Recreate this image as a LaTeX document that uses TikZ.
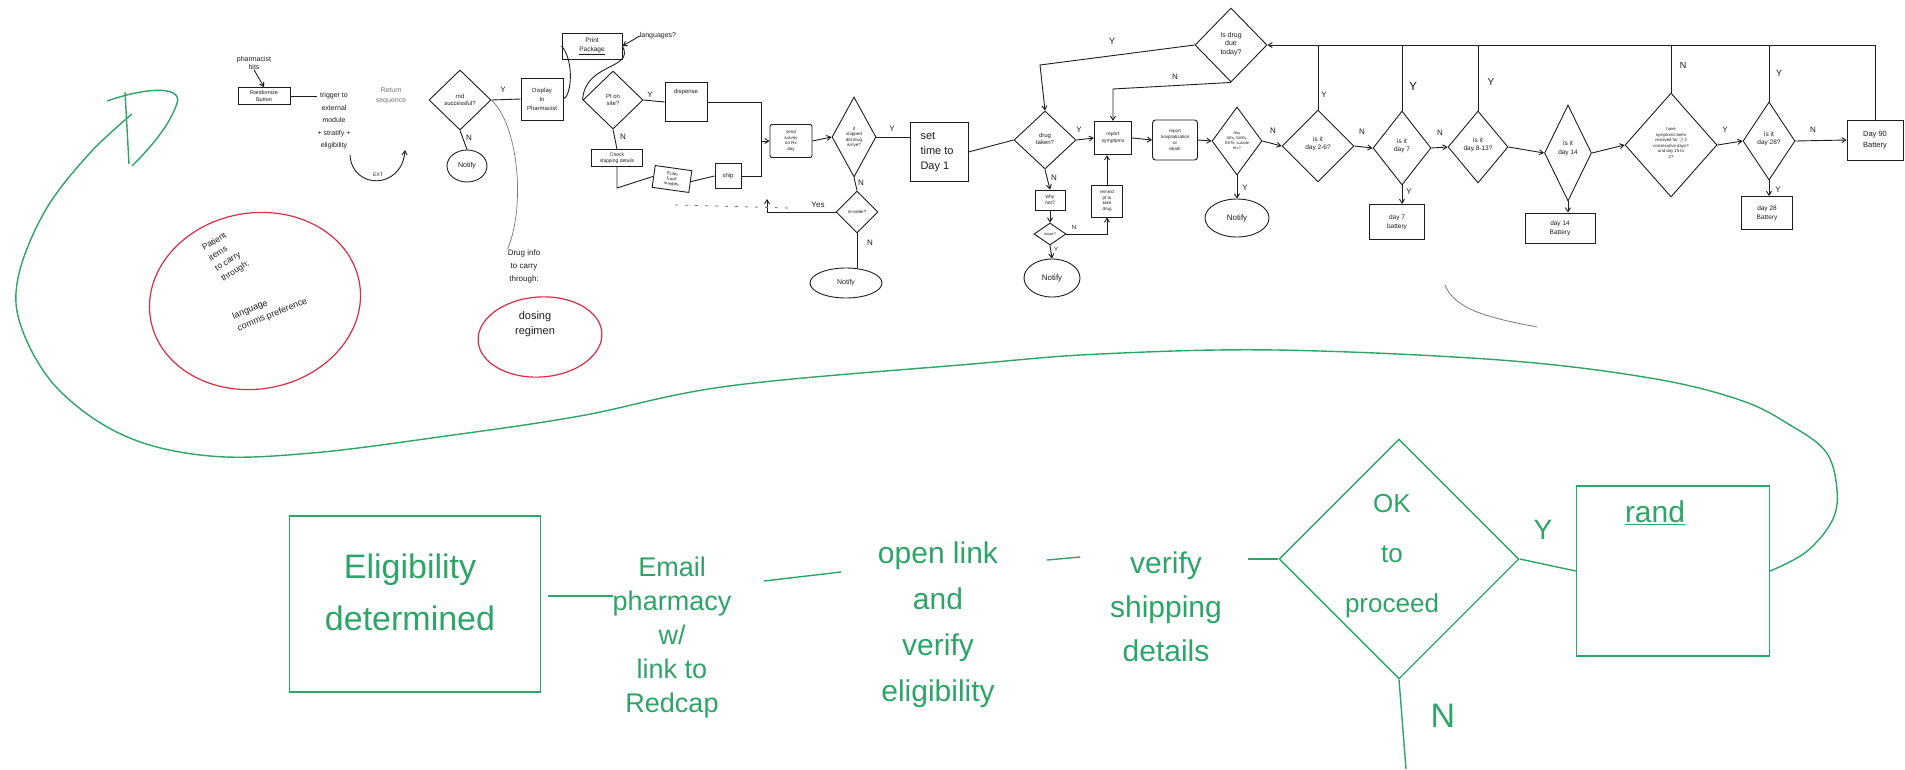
\documentclass[tikz,border=0pt]{standalone}
\usepackage{fontspec}
\setmainfont{Liberation Sans}
\usetikzlibrary{shapes.geometric,arrows.meta}
\definecolor{ink}{RGB}{30,30,30}
\definecolor{gr}{RGB}{45,165,105}
\definecolor{rd}{RGB}{220,45,70}
\definecolor{gy}{RGB}{120,120,120}
\newcommand{\fsz}[2]{\fontsize{#1}{#2}\selectfont}
\begin{document}
\begin{tikzpicture}[x=1pt,y=-1pt,
  every node/.style={inner sep=0pt,text=ink},
  bx/.style={draw=ink,line width=0.9pt,align=center},
  dm/.style={draw=ink,line width=0.9pt,diamond,inner sep=0pt},
  el/.style={draw=ink,line width=0.9pt,ellipse,align=center},
  ln/.style={draw=ink,line width=0.9pt},
  ar/.style={ln,-{Straight Barb[length=4pt,width=5pt]}},
  tx/.style={align=center,font=\fsz{6}{7}},
  yn/.style={font=\fsz{8}{9}},
  gln/.style={draw=gr,line width=1.4pt},
  gt/.style={text=gr,align=center},
]
\fill[white] (0,0) rectangle (1905,769);
\useasboundingbox (0,0) rectangle (1905,769);

% ---------- start of the flow ----------
\node[tx,font=\fsz{7}{8}] (t_pharm) at (254,63) {pharmacist\\hits};
\node[bx,minimum width=52pt,minimum height=17pt,font=\fsz{5.5}{6.5}] (b_rand) at (264,96) {Randomize\\Button};
\draw[ar] (t_pharm.south) -- (b_rand.north);
\node[tx,font=\fsz{7}{12.5}] (t_trig) at (334,121) {trigger to\\external\\module\\+ stratify +\\eligibility};
\draw[ln] (b_rand.east) -- (b_rand.east -| t_trig.west);
\node[tx,font=\fsz{7}{10},text=gy] (t_ret) at (391,96) {Return\\sequence};
\coordinate (c_ext1) at (350,155);
\coordinate (c_ext2) at (405,150);
\draw[ar] (c_ext1) .. controls (352,190) and (402,190) .. (c_ext2);
\node[font=\fsz{5}{6}] (t_ext) at (378,175) {EXT};

\node[dm,minimum width=62pt,minimum height=60pt] (d_rnd) at (460,100) {};
\node[tx] (d_rndT) at (460,100) {rnd\\successful?};
\node[yn] (y1) at (503,90) {Y};
\node[bx,minimum width=42pt,minimum height=42pt,font=\fsz{6}{9}] (b_disp) at (542,99) {Display\\to\\Pharmacist};
\draw[ln] (d_rnd.east) -- (b_disp.west);
\node[yn] (n1) at (469,138) {N};
\node[el,minimum width=40pt,minimum height=32pt,font=\fsz{7}{8}] (e_not1) at (467,166) {Notify};
\draw[ln] (d_rnd.south) -- (e_not1.north);

% notes in red
\node[tx,font=\fsz{8}{13}] (t_drug) at (524,266) {Drug info\\to carry\\through:};
\draw[draw=gy,line width=0.7pt] (d_rnd.east) .. controls (518,125) and (526,205) .. (t_drug.north west);
\node[tx,font=\fsz{11}{15}] (t_dose) at (535,324) {dosing\\regimen};
\node[draw=rd,line width=1.2pt,ellipse,minimum width=124pt,minimum height=80pt,rotate=4] (e_red2) at (540,337) {};
\node[align=left,font=\fsz{8.5}{12},rotate=32] (t_pat) at (226,256) {Patient\\items\\to carry\\through:};
\node[align=left,font=\fsz{9}{13},rotate=22] (t_lang) at (270,309) {language\\comms preference};
\node[draw=rd,line width=1.2pt,ellipse,minimum width=212pt,minimum height=176pt,rotate=10] (e_red1) at (255,301) {};

% ---------- dispensing ----------
\node[bx,minimum width=60pt,minimum height=26pt,font=\fsz{6.5}{9}] (b_print) at (592,46) {Print\\\underline{Package}};
\node[font=\fsz{7}{8}] (t_langq) at (658,36) {languages?};
\draw[ar] (t_langq.west) -- (b_print.east);
\draw[ln] (b_disp.east) .. controls (572,95) and (574,60) .. (b_print.west);
\node[dm,minimum width=60pt,minimum height=58pt] (d_pt) at (613,100) {};
\node[tx] (d_ptT) at (613,100) {Pt on\\site?};
\draw[ln] (b_print.east) .. controls (635,70) and (585,62) .. (d_pt.west);
\node[yn] (y2) at (650,95) {Y};
\node[bx,minimum width=42pt,minimum height=39pt] (b_dsp) at (686,102) {};
\node[tx,font=\fsz{6}{7}] (b_dspT) at (686,92) {dispense};
\draw[ln] (d_pt.east) -- (b_dsp.west);
\coordinate (c_v1) at (761,102);
\coordinate (c_v2) at (761,177);
\draw[ln] (b_dsp.east) -- (c_v1) -- (c_v2);
\node[yn] (n2) at (623,137) {N};
\node[bx,minimum width=51pt,minimum height=17pt,font=\fsz{5}{6}] (b_chk) at (617,158) {Check\\shipping details};
\draw[ln] (d_pt.south) -- (b_chk.north);
\node[bx,minimum width=37pt,minimum height=22pt,rotate=-8,font=\fsz{4.5}{5}] (b_ent) at (672,179) {Enter\\track\\number};
\coordinate (c_chk) at (617,188);
\draw[ln] (b_chk.south) -- (c_chk) -- (b_ent.west);
\node[bx,minimum width=26pt,minimum height=25pt,font=\fsz{6}{7}] (b_ship) at (728,176) {ship};
\draw[ln] (b_ent.east) -- (b_ship.west);
\draw[ln] (b_ship.east) -- (b_ship.east -| c_v2);

\node[bx,minimum width=42pt,minimum height=33pt,rounded corners=2pt,font=\fsz{4.5}{5.5}] (b_send) at (791,141) {send\\survey\\on Rx\\day};
\draw[ar] (c_v1 |- b_send.west) -- (b_send.west);
\node[dm,minimum width=44pt,minimum height=80pt] (d_arr) at (854,137) {};
\node[tx,font=\fsz{4.5}{5.5}] (d_arrT) at (854,137) {if\\shipped\\did drug\\arrive?};
\draw[ar] (b_send.east) -- (d_arr.west);
\node[yn] (y3) at (892,129) {Y};
\node[bx,minimum width=58pt,minimum height=59pt] (b_set) at (939,152) {};
\node[align=left,font=\fsz{11}{15}] (b_setT) at (937,152) {set\\time to\\Day 1};
\draw[ln] (d_arr.east) -- (b_set.west |- d_arr.east);
\node[yn] (n3) at (861,183) {N};
\node[dm,minimum width=42pt,minimum height=42pt] (d_ro) at (857,212) {};
\node[tx,font=\fsz{4.5}{5}] (d_roT) at (857,212) {re-order?};
\draw[ln] (d_arr.south) -- (d_ro.north);
\coordinate (c_yes) at (767,212);
\coordinate (c_yes2) at (767,199);
\draw[ar] (d_ro.west) -- (c_yes) -- (c_yes2);
\node[font=\fsz{8}{9}] (t_yes) at (818,205) {Yes};
\coordinate (c_d1) at (675,205);
\coordinate (c_d2) at (790,208);
\draw[gy,line width=0.8pt,dash pattern=on 3pt off 7pt] (c_d1) -- (c_d2);
\node[yn] (n4) at (870,243) {N};
\node[el,minimum width=72pt,minimum height=30pt,font=\fsz{7}{8}] (e_not2) at (846,283) {Notify};
\draw[ln] (d_ro.south) -- (d_ro.south |- e_not2.north);

% ---------- daily loop ----------
\node[dm,minimum width=62pt,minimum height=58pt] (d_tk) at (1045,140) {};
\node[tx] (d_tkT) at (1045,139) {drug\\taken?};
\draw[ln] (b_set.east) -- (d_tk.west);
\node[yn] (y4) at (1079,130) {Y};
\node[bx,minimum width=37pt,minimum height=33pt,line width=1.3pt,font=\fsz{5}{7}] (b_rep) at (1113,138) {report\\symptoms};
\draw[ar] (d_tk.east) -- (b_rep.west);
\node[bx,minimum width=45pt,minimum height=40pt,rounded corners=3pt,font=\fsz{4.5}{6}] (b_hosp) at (1175,140) {report\\hospitalization\\or\\death};
\draw[ar] (b_rep.east) -- (b_hosp.west);
\node[dm,minimum width=50pt,minimum height=68pt] (d_ae) at (1237,141) {};
\node[tx,font=\fsz{4}{5}] (d_aeT) at (1237,141) {Any\\AEs, SAEs,\\ESTs, suicide\\etc?};
\draw[ar] (b_hosp.east) -- (d_ae.west);
\node[yn] (y5) at (1245,188) {Y};
\node[el,minimum width=64pt,minimum height=38pt,font=\fsz{8}{9}] (e_not4) at (1237,218) {Notify};
\draw[ar] (d_ae.south) -- (e_not4.north);
\node[yn] (n5) at (1273,131) {N};

\node[yn] (n6) at (1054,178) {N};
\node[bx,minimum width=30pt,minimum height=20pt,font=\fsz{5}{6}] (b_why) at (1050,200) {why\\not?};
\draw[ar] (d_tk.south) -- (b_why.north);
\node[dm,minimum width=32pt,minimum height=22pt] (d_iss) at (1050,234) {};
\node[font=\fsz{4}{5}] (d_issT) at (1050,234) {issue?};
\draw[ar] (b_why.south) -- (d_iss.north);
\node[yn,font=\fsz{6}{7}] (y6) at (1056,249) {Y};
\node[el,minimum width=56pt,minimum height=38pt,font=\fsz{8}{9}] (e_not3) at (1052,278) {Notify};
\draw[ar] (d_iss.south) -- (e_not3.north);
\node[bx,minimum width=31pt,minimum height=32pt,font=\fsz{4.5}{5.5}] (b_rem) at (1107,201) {remind\\pt to\\take\\drug};
\coordinate (c_rem) at (1107,234);
\draw[ar] (d_iss.east) -- (c_rem) -- (b_rem.south);
\node[yn,font=\fsz{6}{7}] (n7) at (1074,227) {N};
\draw[ar] (b_rem.north) -- (b_rem.north |- b_rep.south);

% ---------- day checks ----------
\node[dm,minimum width=72pt,minimum height=72pt] (d_26) at (1318,146) {};
\node[tx,font=\fsz{6.5}{8}] (d_26T) at (1318,144) {is it\\day 2-6?};
\draw[ar] (d_ae.east) -- (d_26.west);
\node[yn] (n8) at (1362,132) {N};
\node[dm,minimum width=58pt,minimum height=74pt] (d_7) at (1402,148) {};
\node[tx,font=\fsz{6.5}{8}] (d_7T) at (1402,146) {is it\\day 7};
\draw[ar] (d_26.east) -- (d_7.west);
\node[yn] (y7) at (1409,192) {Y};
\node[bx,minimum width=55pt,minimum height=35pt,font=\fsz{6.5}{9}] (b_d7) at (1397,222) {day 7\\battery};
\draw[ar] (d_7.south) -- (d_7.south |- b_d7.north);
\node[yn] (n9) at (1440,133) {N};
\node[dm,minimum width=60pt,minimum height=72pt] (d_813) at (1478,147) {};
\node[tx,font=\fsz{6.5}{8}] (d_813T) at (1478,145) {is it\\day 8-13?};
\draw[ar] (d_7.east) -- (d_813.west);
\node[dm,minimum width=47pt,minimum height=96pt] (d_14) at (1568,153) {};
\node[tx,font=\fsz{6.5}{9}] (d_14T) at (1568,148) {is it\\day 14};
\draw[ar] (d_813.east) -- (d_14.west);
\node[bx,minimum width=70pt,minimum height=30pt,font=\fsz{6.5}{9}] (b_d14) at (1560,228) {day 14\\Battery};
\draw[ar] (d_14.south) -- (d_14.south |- b_d14.north);
\node[dm,minimum width=92pt,minimum height=104pt] (d_sym) at (1671,145) {};
\node[tx,font=\fsz{4.3}{5.5}] (d_symT) at (1671,143) {have\\symptoms been\\resolved for $\geq$3\\consecutive days?\\and day 15 to\\27};
\draw[ar] (d_14.east) -- (d_sym.west);
\node[yn] (y8) at (1725,130) {Y};
\node[dm,minimum width=52pt,minimum height=78pt] (d_28) at (1769,141) {};
\node[tx,font=\fsz{6.5}{8}] (d_28T) at (1769,139) {is it\\day 28?};
\draw[ar] (d_sym.east) -- (d_28.west);
\node[yn] (y9) at (1778,190) {Y};
\node[bx,minimum width=51pt,minimum height=33pt,font=\fsz{6.5}{9}] (b_d28) at (1767,213) {day 28\\Battery};
\draw[ar] (d_28.south) -- (d_28.south |- b_d28.north);
\node[yn] (n10) at (1813,130) {N};
\node[bx,minimum width=56pt,minimum height=40pt,font=\fsz{7.5}{11}] (b_d90) at (1875,140) {Day 90\\Battery};
\draw[ar] (d_28.east) -- (b_d90.west);

% ---------- top return loop ----------
\node[dm,minimum width=72pt,minimum height=74pt] (d_due) at (1231,45) {};
\node[tx,font=\fsz{7}{8.5}] (d_dueT) at (1231,44) {Is drug\\due\\today?};
\coordinate (c_top) at (1875,45);
\draw[ar] (b_d90.north) -- (c_top) -- (d_due.east);
\draw[ln] (d_26.north) -- (d_26.north |- c_top);
\draw[ln] (d_7.north) -- (d_7.north |- c_top);
\draw[ln] (d_813.north) -- (d_813.north |- c_top);
\draw[ln] (d_sym.north) -- (d_sym.north |- c_top);
\draw[ln] (d_28.north) -- (d_28.north |- c_top);
\node[yn] (y11) at (1324,95) {Y};
\node[yn,font=\fsz{12}{13}] (y12) at (1413,86) {Y};
\node[yn,font=\fsz{10}{11}] (y13) at (1491,82) {Y};
\node[yn,font=\fsz{9}{10}] (n12) at (1683,65) {N};
\node[yn,font=\fsz{9}{10}] (y14) at (1779,73) {Y};
\coordinate (c_yl) at (1040,65);
\draw[ar] (d_due.west) -- (c_yl) -- (d_tk.north);
\node[yn,font=\fsz{9}{10}] (y10) at (1112,41) {Y};
\coordinate (c_nl) at (1113,89);
\draw[ar] (d_due.south) -- (c_nl) -- (b_rep.north);
\node[yn] (n11) at (1175,77) {N};

% stray grey stroke
\draw[gy,line width=0.8pt] (1445,285) .. controls (1455,310) and (1490,318) .. (1537,327);

% ---------- green process ----------
\node[draw=gr,line width=1.4pt,minimum width=251pt,minimum height=176pt] (b_elig) at (415,604) {};
\node[gt,font=\fsz{34}{52}] (b_eligT) at (410,592) {Eligibility\\determined};
\node[gt,font=\fsz{27}{34}] (t_email) at (672,638) {Email\\pharmacy\\w/\\link to\\Redcap};
\coordinate (c_g0) at (548,596);
\draw[gln] (c_g0) -- (c_g0 -| t_email.west);
\node[gt,font=\fsz{30}{46}] (t_open) at (938,625) {open link\\and\\verify\\eligibility};
\coordinate (c_g1) at (764,581);
\coordinate (c_g2) at (841,572);
\draw[gln] (c_g1) -- (c_g2);
\node[gt,font=\fsz{30}{44}] (t_ver) at (1166,607) {verify\\shipping\\details};
\coordinate (c_g3) at (1047,560);
\coordinate (c_g4) at (1080,557);
\draw[gln] (c_g3) -- (c_g4);
\node[draw=gr,line width=1.4pt,diamond,minimum width=240pt,minimum height=240pt,inner sep=0pt] (d_ok) at (1399,559) {};
\node[gt,font=\fsz{26}{50}] (d_okT) at (1392,556) {OK\\to\\proceed};
\coordinate (c_g5) at (1248,559);
\draw[gln] (c_g5) -- (d_ok.west);
\node[gt,font=\fsz{28}{30}] (y_ok) at (1543,530) {Y};
\node[draw=gr,line width=1.4pt,minimum width=193pt,minimum height=170pt] (b_rnd) at (1673,571) {};
\node[gt,font=\fsz{30}{32}] (b_rndT) at (1655,513) {\underline{rand}};
\draw[gln] (d_ok.east) -- (b_rnd.west);
\coordinate (c_gn) at (1406,769);
\draw[gln] (d_ok.south) -- (c_gn);
\node[gt,font=\fsz{34}{36}] (n_ok) at (1443,716) {N};

\coordinate (c_arr) at (132,114);
\draw[gln] plot[smooth,tension=0.6] coordinates {(b_rnd.east) (1806,552) (1832,521) (1837,490) (1826,452) (1790,425) (1740,400) (1650,378) (1500,360) (1276,350) (1100,354) (972,364) (729,386) (580,416) (446,436) (312,453) (210,456) (125,436) (58,389) (22,329) (18,278) (45,211) (89,154) (c_arr)};
\draw[gln] (125,92) -- (129,164);
\draw[gln] (107,101) .. controls (150,86) and (186,86) .. (176,106) .. controls (168,128) and (148,150) .. (132,166);
\end{tikzpicture}
\end{document}
